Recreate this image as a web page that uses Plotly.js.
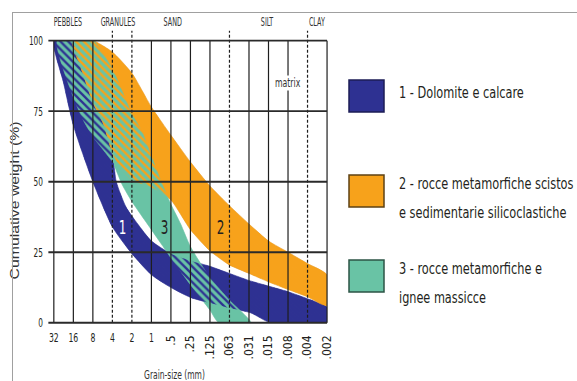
<!DOCTYPE html>
<html><head><meta charset="utf-8">
<script src="https://cdn.plot.ly/plotly-3.0.1.min.js"></script>
<style>
html,body{margin:0;padding:0;background:#fff;overflow:hidden;}
#wrap{position:relative;width:577px;height:381px;overflow:hidden;}
#chart{width:577px;height:381px;}
#frame{position:absolute;left:12px;top:12px;width:700px;height:500px;border-left:1.5px solid #a0a0a0;border-top:1.5px solid #a0a0a0;pointer-events:none;}
</style></head><body>
<div id="wrap"><div id="chart"></div><div id="frame"></div></div>
<script>
// ---- data ----
const sizeLabels = ['32','16','8','4','2','1','.5','.25','.125','.063','.031','.015','.008','.004','.002'];
const sizePhi = [-5,-4,-3,-2,-1,0,1,2,3,4,5,6,7,8,9];
const classBoundaries = ['4','2','.063','.004'];
const classNames = ['PEBBLES','GRANULES','SAND','SILT','CLAY'];
const classPhi = [-4.26,-1.7,1.13,5.95,8.5];
const yTicks = [0,25,50,75,100];
const yTickText = ['0','25','50','75','100'];

// band 1 - Dolomite e calcare
const b1LowerPhi = [-5,-4.5,-4,-3,-2,-1,0,1,2,3,4,5.1,6.1,9];
const b1LowerPct = [100,85,70,50,34,24.5,17,12.5,9,7,5.2,3.5,0,0];
const b1UpperPhi = [-5,-4.1,-4.05,-3.5,-3,-2.5,-2,-1.8,-1.3,-0.7,0,1,2,3,4,5,6,7,8,9];
const b1UpperPct = [100,100,100,88,78,71,60,50,41,35,29,24.5,22,20,17.5,15,13,11,8.5,5.5];

// band 2 - rocce metamorfiche scistose e sedimentarie silicoclastiche
const b2LowerPhi = [-4.05,-3.5,-3,-2.5,-2,-1.5,-1,0,1,2,3,4,5,6,7,8,9];
const b2LowerPct = [100,88,78,71,60,54,50.5,48,43.5,33,25.5,20.5,17.5,14.5,11.8,9.2,6];
const b2UpperPhi = [-4.05,-3,-2.95,-2,-1,0,1,2,3,4,5,6,7,8,9];
const b2UpperPct = [100,100,100,96,88.5,76.5,66.5,57,48.5,41.5,35,29,25,21,17];

// band 3 - rocce metamorfiche e ignee massicce
const b3LowerPhi = [-4.82,-4,-3.5,-3,-2,-1.5,-1,0,0.5,1,2,3,3.45];
const b3LowerPct = [100,80,72,66,57,49,43,33,28,23,13.5,4.5,0];
const b3UpperPhi = [-4.82,-3,-2.95,-2,-1,-0.5,0,0.5,1,1.5,2,3,4,5.1];
const b3UpperPct = [100,100,100,90,74,68,59,50,42,35,27,16,8,0];

const bandNames = ['1','2','3'];
const legendTexts = ['1 - Dolomite e calcare',
  '2 - rocce metamorfiche scistos<br>e sedimentarie silicoclastiche',
  '3 - rocce metamorfiche e<br>ignee massicce'];

// ---- styles ----
const BLUE = '#2e3192', ORANGE = '#f7a21b', GREEN = '#69c3a5';
const COND = '"DejaVu Sans Condensed", "DejaVu Sans", sans-serif';
const TXT = '#231f20';

const L = 47, R = 248, T = 28, B = 54, W = 577, H = 381;
const PW = W - L - R, PH = H - T - B;
const px = x => (x - L) / PW;
const py = y => (H - B - y) / PH;

function poly(lx, ly, ux, uy) {
  return {x: lx.concat(ux.slice().reverse()), y: ly.concat(uy.slice().reverse())};
}
const p1 = poly(b1LowerPhi, b1LowerPct, b1UpperPhi, b1UpperPct);
const p2 = poly(b2LowerPhi, b2LowerPct, b2UpperPhi, b2UpperPct);
const p3 = poly(b3LowerPhi, b3LowerPct, b3UpperPhi, b3UpperPct);

const sm = 0.6;
function solid(p, c, lc) {
  return {x: p.x, y: p.y, type: 'scatter', mode: 'lines', fill: 'toself', fillcolor: c,
    line: {color: lc || c, width: 0.6, shape: 'spline', smoothing: sm}, hoverinfo: 'skip', showlegend: false};
}
function hatch(p, c) {
  return {x: p.x, y: p.y, type: 'scatter', mode: 'lines', fill: 'toself', fillcolor: 'rgba(0,0,0,0)',
    fillpattern: {shape: '\\', fgcolor: c, bgcolor: 'rgba(0,0,0,0)', size: 5.5, solidity: 0.42, fillmode: 'replace'},
    line: {color: 'rgba(0,0,0,0)', width: 0, shape: 'spline', smoothing: sm}, hoverinfo: 'skip', showlegend: false};
}

const traces = [
  solid(p1, BLUE),
  solid(p2, ORANGE, '#e69a2a'),
  solid(p3, GREEN),
  hatch(p1, BLUE),
  hatch(p2, ORANGE),
  {x: [], y: [], xaxis: 'x2', yaxis: 'y', type: 'scatter', showlegend: false}
];

const xr = [-5.35, 9.1], yr = [-1.5, 104.5];
const shapes = [];
[[xr[0], xr[1], 100, yr[1]], [xr[0], xr[1], yr[0], 0], [xr[0], -5, 0, 100], [9, xr[1], 0, 100]].forEach(r =>
  shapes.push({type: 'rect', xref: 'x', yref: 'y', x0: r[0], x1: r[1], y0: r[2], y1: r[3],
    fillcolor: '#fff', line: {width: 0}, layer: 'above'}));
sizePhi.forEach((p, k) => {
  const dashed = classBoundaries.includes(sizeLabels[k]);
  shapes.push({type: 'line', xref: 'x', yref: 'y', x0: p, x1: p, y0: 0, y1: dashed ? 103.5 : 100,
    line: {color: '#1e1e1e', width: 1.2, dash: dashed ? '3px,2px' : 'solid'}, layer: 'above'});
});
yTicks.forEach(v => shapes.push({type: 'line', xref: 'x', yref: 'y', x0: -5.28, x1: 9, y0: v, y1: v,
  line: {color: '#2a2a2a', width: 1.8}, layer: 'above'}));

const legendColors = [[BLUE, '#1c1d55'], [ORANGE, '#5e4214'], [GREEN, '#2c5446']];
const legendBoxTop = [80, 175, 260];
const legendTextY = [[93], [183, 212], [268, 297]];
const legendTextLen = [[125], [176, 176], [145, 87]];
legendColors.forEach((c, k) => {
  shapes.push({type: 'rect', xref: 'paper', yref: 'paper', x0: px(349), x1: px(384),
    y0: py(legendBoxTop[k]), y1: py(legendBoxTop[k] + 32), fillcolor: c[0], line: {color: c[1], width: 1.5}, layer: 'above'});
});

const annotations = [], annCondense = [];
function ann(a, spec) { annotations.push(a); annCondense.push(spec); }
classNames.forEach((n, k) => ann({text: n, xref: 'x', yref: 'paper', x: classPhi[k], y: py(22),
  showarrow: false, xanchor: 'center', yanchor: 'middle', font: {family: COND, size: 11.5, color: '#333'}}, {f: 0.62}));
ann({text: 'matrix', xref: 'x', yref: 'y', x: 7, y: 85, showarrow: false, bgcolor: '#fff',
  borderpad: 0, font: {family: COND, size: 12, color: '#333'}}, {f: 0.72});
const bandLabelPhi = [-1.48, 3.54, 0.65];
const bandLabelColor = ['#fff', TXT, TXT];
bandNames.forEach((n, k) => ann({text: n, xref: 'x', yref: 'y', x: bandLabelPhi[k], y: 34,
  showarrow: false, font: {family: COND, size: 19, color: bandLabelColor[k]}}, {f: 0.7}));
ann({text: 'Cumulative weight (%)', xref: 'paper', yref: 'paper', x: px(14), y: py(201),
  textangle: -90, showarrow: false, xanchor: 'center', yanchor: 'middle',
  font: {family: '"Liberation Sans", sans-serif', size: 13.5, color: '#333'}}, {len: 158});
ann({text: 'Grain-size (mm)', xref: 'paper', yref: 'paper', x: px(174), y: py(375),
  showarrow: false, xanchor: 'center', yanchor: 'middle', font: {family: COND, size: 12, color: '#333'}}, {f: 0.7});
// legend text: narrower base font, stretched vertically after drawing to mimic a condensed face
const LEG_SIZE = 12.6, LEG_STRETCH = 16 / 12.6;
const legLines = legendTexts.map(t => t.split('<br>'));
legLines.forEach((lines, k) => lines.forEach((ln, j) => ann({text: ln, xref: 'paper', yref: 'paper',
  x: px(397), y: py(legendTextY[k][j]), xanchor: 'left', yanchor: 'middle', showarrow: false,
  font: {family: COND, size: LEG_SIZE, color: TXT}}, {len: legendTextLen[k][j], left: true, sy: LEG_STRETCH})));

const layout = {
  width: W, height: H, margin: {l: L, r: R, t: T, b: B, pad: 0},
  paper_bgcolor: '#fff', plot_bgcolor: '#fff', showlegend: false,
  xaxis: {range: xr, tickmode: 'array', tickvals: sizePhi.slice(0, 6), ticktext: sizeLabels.slice(0, 6),
    tickangle: 0, ticks: '', showgrid: false, zeroline: false, showline: false,
    ticklabelstandoff: 1, tickfont: {family: COND, size: 13, color: TXT}},
  xaxis2: {range: xr, overlaying: 'x', anchor: 'y', side: 'bottom', tickmode: 'array', tickvals: sizePhi.slice(6),
    ticktext: sizeLabels.slice(6), tickangle: -90, ticks: '', showgrid: false, zeroline: false, showline: false,
    ticklabelstandoff: 5, tickfont: {family: COND, size: 12, color: TXT}},
  yaxis: {range: yr, tickmode: 'array', tickvals: yTicks, ticktext: yTickText, ticks: '',
    showgrid: false, zeroline: false, showline: false, ticklabelstandoff: 3,
    tickfont: {family: COND, size: 13, color: TXT}},
  shapes: shapes, annotations: annotations
};

function condense(el, spec, group) {
  if (!el || !spec) return;
  const w = el.getComputedTextLength();
  if (!(w > 0)) return;
  const nw = Math.min(spec.len ? spec.len : w * spec.f, spec.left ? w : Infinity);
  const d = w - nw;
  el.setAttribute('textLength', nw.toFixed(2));
  el.setAttribute('lengthAdjust', 'spacingAndGlyphs');
  const anchor = el.getAttribute('text-anchor') || 'middle';
  if (spec.left && anchor === 'middle') {
    const x = parseFloat(el.getAttribute('x') || '0');
    el.setAttribute('x', (x - d / 2).toFixed(2));
  }
  if (spec.sy) {
    const fs = parseFloat(getComputedStyle(el).fontSize) || LEG_SIZE;
    const y0 = parseFloat(el.getAttribute('y') || '0') - 0.36 * fs;
    el.setAttribute('transform', 'translate(0,' + (y0 * (1 - spec.sy)).toFixed(2) + ') scale(1,' + spec.sy.toFixed(3) + ')');
  }
  if (group && d > 0) {
    group.querySelectorAll('rect').forEach(r => {
      const rw = parseFloat(r.getAttribute('width') || '0');
      const rx = parseFloat(r.getAttribute('x') || '0');
      if (rw > d) {
        r.setAttribute('width', (rw - d).toFixed(2));
        if (!spec.left) r.setAttribute('x', (rx + d / 2).toFixed(2));
      }
    });
  }
}
Plotly.newPlot('chart', traces, layout, {staticPlot: true, displayModeBar: false}).then(gd => {
  gd.querySelectorAll('.xtick text').forEach(t => condense(t, {f: 0.66}));
  gd.querySelectorAll('.ytick text').forEach(t => condense(t, {f: 0.63}));
  gd.querySelectorAll('.annotation').forEach(g => {
    const k = +g.getAttribute('data-index');
    condense(g.querySelector('text'), annCondense[k], g);
  });
});
</script>
</body></html>
